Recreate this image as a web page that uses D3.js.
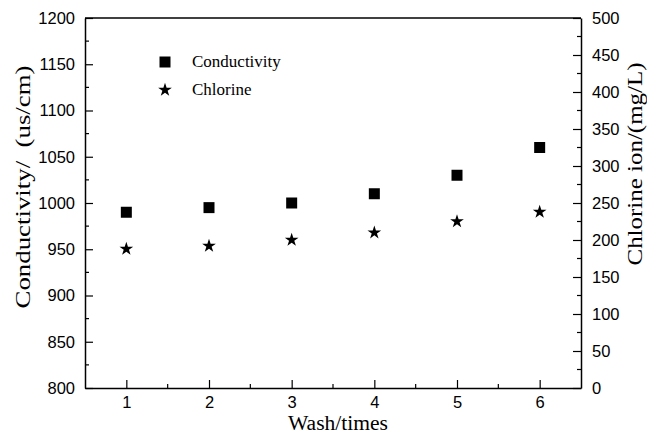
<!DOCTYPE html>
<html>
<head>
<meta charset="utf-8">
<script src="https://cdn.jsdelivr.net/npm/d3@7"></script>
<style>
  body { margin: 0; background: #fff; }
  svg { display: block; }
</style>
</head>
<body>
<svg id="chart" width="647" height="434"></svg>
<script>
// Wash cycle data
const washes = [1, 2, 3, 4, 5, 6];
const conductivity = [990, 995, 1000, 1010, 1030, 1060];   // us/cm
const chlorine = [188, 192, 200, 210, 225, 238];            // mg/L
const leftTicks = [800, 850, 900, 950, 1000, 1050, 1100, 1150, 1200];
const rightTicks = [0, 50, 100, 150, 200, 250, 300, 350, 400, 450, 500];

const svg = d3.select("#chart");
const m = { left: 85, right: 581, top: 18, bottom: 388 };

const x = d3.scaleLinear().domain([0.5, 6.5]).range([m.left, m.right]);
const yL = d3.scaleLinear().domain([800, 1200]).range([m.bottom, m.top]);
const yR = d3.scaleLinear().domain([0, 500]).range([m.bottom, m.top]);

const sans = "'Liberation Sans', Arial, sans-serif";
const serif = "'Liberation Serif', 'Times New Roman', serif";

function styleAxis(g) {
  g.selectAll("path").attr("stroke", "#000").attr("stroke-width", 1.5);
  g.selectAll("line").attr("stroke", "#000").attr("stroke-width", 1.2);
  g.selectAll("text").attr("font-family", sans).attr("font-size", 16.5).attr("fill", "#000");
}

// Top border
svg.append("line")
  .attr("x1", m.left).attr("x2", m.right)
  .attr("y1", m.top).attr("y2", m.top)
  .attr("stroke", "#000").attr("stroke-width", 1.5);

// Bottom axis: major ticks and half-step minor ticks, pointing inward
const gx = svg.append("g").attr("transform", `translate(0,${m.bottom})`);
gx.call(d3.axisBottom(x).tickValues(washes).tickSize(-8).tickSizeOuter(0).tickPadding(8.5).tickFormat(d3.format("d")));
styleAxis(gx);
gx.selectAll("line.minor").data(d3.range(1.5, 6.5, 1)).enter().append("line")
  .attr("class", "minor")
  .attr("x1", d => x(d)).attr("x2", d => x(d)).attr("y1", 0).attr("y2", -4)
  .attr("stroke", "#000").attr("stroke-width", 1.2);

// Left axis
const gl = svg.append("g").attr("transform", `translate(${m.left},0)`);
gl.call(d3.axisLeft(yL).tickValues(leftTicks).tickSize(-8).tickSizeOuter(0).tickPadding(10).tickFormat(d3.format("d")));
styleAxis(gl);
gl.selectAll("line.minor").data(d3.range(825, 1200, 50)).enter().append("line")
  .attr("class", "minor")
  .attr("x1", 0).attr("x2", 4).attr("y1", d => yL(d)).attr("y2", d => yL(d))
  .attr("stroke", "#000").attr("stroke-width", 1.2);

// Right axis
const gr = svg.append("g").attr("transform", `translate(${m.right},0)`);
gr.call(d3.axisRight(yR).tickValues(rightTicks).tickSize(-8).tickSizeOuter(0).tickPadding(11).tickFormat(d3.format("d")));
styleAxis(gr);
gr.selectAll("line.minor").data(d3.range(25, 500, 50)).enter().append("line")
  .attr("class", "minor")
  .attr("x1", 0).attr("x2", -4).attr("y1", d => yR(d)).attr("y2", d => yR(d))
  .attr("stroke", "#000").attr("stroke-width", 1.2);

// Axis titles (vertical titles are drawn elongated along their baseline)
svg.append("text")
  .attr("transform", "translate(30,187) rotate(-90)")
  .attr("text-anchor", "middle")
  .attr("font-family", serif).attr("font-size", 20)
  .attr("textLength", 243).attr("lengthAdjust", "spacingAndGlyphs")
  .text("Conductivity/\u00a0\u00a0(us/cm)");

svg.append("text")
  .attr("transform", "translate(642,164) rotate(-90)")
  .attr("text-anchor", "middle")
  .attr("font-family", serif).attr("font-size", 20)
  .attr("textLength", 203).attr("lengthAdjust", "spacingAndGlyphs")
  .text("Chlorine ion/(mg/L)");

svg.append("text")
  .attr("x", 338).attr("y", 429.5)
  .attr("text-anchor", "middle")
  .attr("font-family", serif).attr("font-size", 20)
  .attr("textLength", 100).attr("lengthAdjust", "spacingAndGlyphs")
  .text("Wash/times");

// Markers
const sq = d3.symbol().type(d3.symbolSquare).size(121);
const star = d3.symbol().type(d3.symbolStar).size(58);

svg.append("g").selectAll("path").data(washes).enter().append("path")
  .attr("d", sq)
  .attr("transform", (d, i) => `translate(${x(d)},${yL(conductivity[i])})`)
  .attr("fill", "#000");

svg.append("g").selectAll("path").data(washes).enter().append("path")
  .attr("d", star)
  .attr("transform", (d, i) => `translate(${x(d)},${yR(chlorine[i])})`)
  .attr("fill", "#000");

// Legend
const legend = [
  { label: "Conductivity", sym: sq, y: 62 },
  { label: "Chlorine", sym: star, y: 90 }
];
const lg = svg.append("g");
legend.forEach(l => {
  lg.append("path").attr("d", l.sym).attr("fill", "#000")
    .attr("transform", `translate(165,${l.y})`);
  lg.append("text").attr("x", 192).attr("y", l.y + 5)
    .attr("font-family", serif).attr("font-size", 17)
    .text(l.label);
});
</script>
</body>
</html>
